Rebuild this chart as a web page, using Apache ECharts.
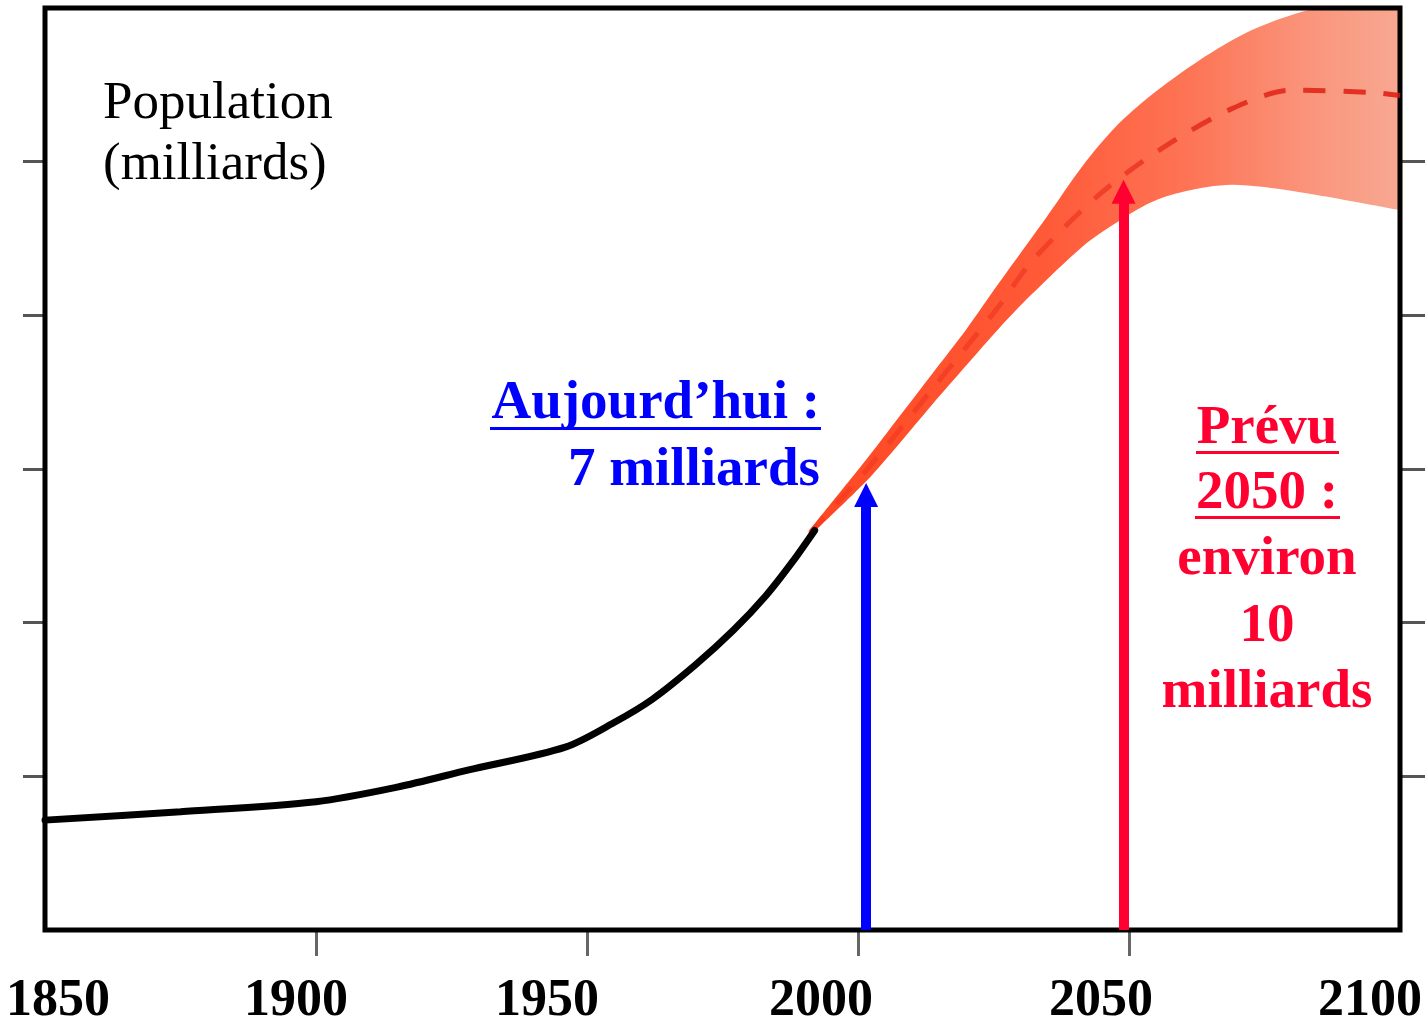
<!DOCTYPE html>
<html><head><meta charset="utf-8">
<script src="https://cdn.jsdelivr.net/npm/echarts@6/dist/echarts.min.js"></script>
<style>html,body{margin:0;padding:0;background:#fff}#c{width:1427px;height:1026px}</style>
</head><body><div id="c"></div><script>
// ---- data (population, billions) ----
const histYears  = [1850, 1875, 1900, 1915, 1928, 1946, 1955, 1962, 1970, 1977, 1983, 1988, 1992];
const histValues = [1.43, 1.54, 1.67, 1.86, 2.08, 2.38, 2.70, 3.00, 3.45, 3.90, 4.35, 4.80, 5.20];

const highYears  = [1991, 2001.5, 2007.6, 2013.7, 2020, 2026, 2035, 2041.5, 2047.5, 2054, 2063, 2072, 2080, 2090, 2100];
const highValues = [5.20, 6.12, 6.68, 7.24, 7.82, 8.42, 9.30, 9.95, 10.45, 10.86, 11.32, 11.69, 11.91, 12.10, 12.25];

const lowYears   = [1991, 2001.5, 2007.6, 2013.7, 2020, 2026, 2032, 2041.5, 2047.5, 2054, 2060, 2069, 2081, 2100];
const lowValues  = [5.12, 5.84, 6.33, 6.84, 7.35, 7.83, 8.27, 8.90, 9.20, 9.47, 9.61, 9.70, 9.61, 9.37];

const midYears   = [1991, 2001.5, 2013.7, 2026, 2032, 2044.5, 2056, 2069, 2080, 2095, 2100];
const midValues  = [5.16, 5.98, 7.04, 8.12, 8.70, 9.57, 10.17, 10.69, 10.93, 10.90, 10.86];

const xTickYears = [1850, 1900, 1950, 2000, 2050, 2100];
const todayArrow    = [2001.5, 5.66];
const forecastArrow = [2049, 9.61];

// ---- styles ----
const F = "'Liberation Serif','Times New Roman',serif";
const bandBase = 5.1;
const labelShift = {1850: 13, 1900: -20, 1950: -40, 2000: -37, 2050: -28, 2100: -30};
const rich = {};
xTickYears.forEach(y => {
  const d = labelShift[y] || 0;
  rich['y' + y] = {
    fontFamily: F, fontWeight: 'bold', fontSize: 52, color: '#000',
    padding: d < 0 ? [0, -2 * d, 0, 0] : [0, 0, 0, 2 * d]
  };
});

const zip = (a, b) => a.map((v, i) => [v, b[i]]);

const chart = echarts.init(document.getElementById('c'), null, {renderer: 'canvas'});
const option = {
  animation: false,
  backgroundColor: '#fff',
  grid: {left: 45, right: 27, top: 8, bottom: 96, show: true, borderColor: '#000', borderWidth: 5,
         backgroundColor: 'transparent', z: 3, containLabel: false, outerBoundsMode: 'none'},
  xAxis: {
    type: 'value', min: 1850, max: 2100, interval: 50,
    axisLine: {show: false},
    splitLine: {show: false},
    axisTick: {show: true, inside: false, length: 26, lineStyle: {color: '#666', width: 3},
               customValues: [1900, 1950, 2000, 2050]},
    axisLabel: {
      margin: 46, showMinLabel: true, showMaxLabel: true,
      formatter: v => '{y' + v + '|' + v + '}', rich: rich
    }
  },
  yAxis: [
    {type: 'value', min: 0, max: 12, interval: 2, position: 'left',
     axisLine: {show: false}, splitLine: {show: false}, axisLabel: {show: false},
     axisTick: {show: true, inside: false, length: 22, lineStyle: {color: '#555', width: 3},
                customValues: [2, 4, 6, 8, 10]}},
    {type: 'value', min: 0, max: 12, interval: 2, position: 'right',
     axisLine: {show: false}, splitLine: {show: false}, axisLabel: {show: false},
     axisTick: {show: true, inside: false, length: 25, lineStyle: {color: '#555', width: 3},
                customValues: [2, 4, 6, 8, 10]}}
  ],
  series: [
    {
      name: 'high', type: 'line', smooth: 0.3, symbol: 'none', silent: true,
      data: zip(highYears, highValues),
      lineStyle: {width: 0, opacity: 0},
      areaStyle: {
        opacity: 1, origin: bandBase,
        color: new echarts.graphic.LinearGradient(0, 0, 1, 0, [
          {offset: 0, color: '#ff4722'},
          {offset: 0.4, color: '#ff5a38'},
          {offset: 0.65, color: '#fd7556'},
          {offset: 0.85, color: '#fa957c'},
          {offset: 1, color: '#f8a892'}
        ])
      },
      z: 0
    },
    {
      name: 'low', type: 'line', smooth: 0.3, symbol: 'none', silent: true,
      data: zip(lowYears, lowValues),
      lineStyle: {width: 0, opacity: 0},
      areaStyle: {opacity: 1, color: '#ffffff', origin: 'start'},
      z: 1
    },
    {
      name: 'mid', type: 'line', smooth: 0.3, symbol: 'none', silent: true,
      data: zip(midYears, midValues),
      lineStyle: {
        width: 5, type: [22, 18],
        color: new echarts.graphic.LinearGradient(0, 0, 1, 0, [
          {offset: 0, color: 'rgba(226,30,20,0.25)'},
          {offset: 0.45, color: 'rgba(226,30,20,0.45)'},
          {offset: 0.7, color: 'rgba(222,24,14,0.75)'},
          {offset: 1, color: 'rgba(222,24,14,0.85)'}
        ])
      },
      z: 4
    },
    {
      name: 'hist', type: 'line', smooth: 0.3, symbol: 'none', silent: true,
      data: zip(histYears, histValues),
      lineStyle: {color: '#000', width: 7, cap: 'round'},
      z: 5
    },
    {
      name: 'arrows', type: 'line', data: [], silent: true,
      markLine: {
        silent: true, animation: false,
        symbol: ['none', 'triangle'], symbolSize: 24,
        label: {show: false},
        emphasis: {disabled: true},
        data: [
          [{coord: [todayArrow[0], 0], lineStyle: {color: '#0000ff', width: 10, type: 'solid'}, itemStyle: {color: '#0000ff'}},
           {coord: [todayArrow[0], todayArrow[1]]}],
          [{coord: [forecastArrow[0], 0], lineStyle: {color: '#ff0030', width: 10, type: 'solid'}, itemStyle: {color: '#ff0030'}},
           {coord: [forecastArrow[0], forecastArrow[1]]}]
        ]
      },
      z: 6
    }
  ],
  graphic: [
    {type: 'text', left: 103, top: 78, z: 10, style: {text: 'Population', font: '53px ' + F, fill: '#000'}},
    {type: 'text', left: 103, top: 139, z: 10, style: {text: '(milliards)', font: '53px ' + F, fill: '#000'}},

    {type: 'text', z: 10, x: 820, y: 404, style: {text: 'Aujourd\u2019hui :', font: 'bold 55px ' + F, fill: '#0000ff', align: 'right', verticalAlign: 'middle'}},
    {type: 'rect', z: 10, shape: {x: 490, y: 427, width: 331, height: 3}, style: {fill: '#0000ff'}},
    {type: 'text', z: 10, x: 820, y: 471, style: {text: '7 milliards', font: 'bold 55px ' + F, fill: '#0000ff', align: 'right', verticalAlign: 'middle'}},

    {type: 'text', z: 10, x: 1267, y: 429, style: {text: 'Prévu', font: 'bold 55px ' + F, fill: '#ff0030', align: 'center', verticalAlign: 'middle'}},
    {type: 'rect', z: 10, shape: {x: 1196, y: 451, width: 143, height: 3}, style: {fill: '#ff0030'}},
    {type: 'text', z: 10, x: 1267, y: 494, style: {text: '2050 :', font: 'bold 55px ' + F, fill: '#ff0030', align: 'center', verticalAlign: 'middle'}},
    {type: 'rect', z: 10, shape: {x: 1195, y: 516, width: 145, height: 3}, style: {fill: '#ff0030'}},
    {type: 'text', z: 10, x: 1267, y: 560, style: {text: 'environ', font: 'bold 55px ' + F, fill: '#ff0030', align: 'center', verticalAlign: 'middle'}},
    {type: 'text', z: 10, x: 1267, y: 627, style: {text: '10', font: 'bold 55px ' + F, fill: '#ff0030', align: 'center', verticalAlign: 'middle'}},
    {type: 'text', z: 10, x: 1267, y: 693, style: {text: 'milliards', font: 'bold 55px ' + F, fill: '#ff0030', align: 'center', verticalAlign: 'middle'}}
  ]
};
chart.setOption(option);
</script></body></html>
